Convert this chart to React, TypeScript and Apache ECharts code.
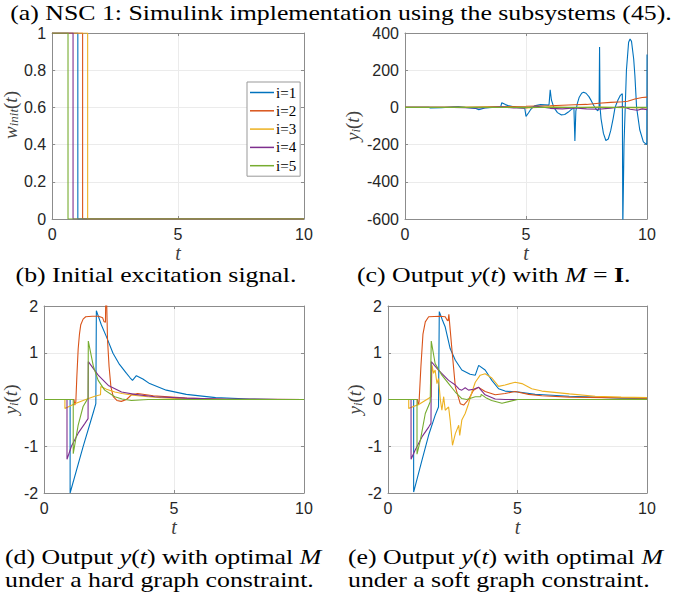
import React, { useEffect, useRef } from "react";
import * as echarts from "echarts";

const seriesNames = ["i=1", "i=2", "i=3", "i=4", "i=5"];
const colors = ["#0072BD", "#D95319", "#EDB120", "#7E2F8E", "#77AC30"];

const xTicks = { min: 0, max: 10, interval: 5 };
const yTicksB = { min: 0, max: 1, interval: 0.2 };
const yTicksC = { min: -600, max: 400, interval: 200 };
const yTicksDE = { min: -2, max: 2, interval: 1 };

// (b) initial excitation pulses
const wInit1 = [[0, 1], [1.02, 1], [1.02, 0], [10, 0]];
const wInit2 = [[0, 1], [1.21, 1], [1.21, 0], [10, 0]];
const wInit3 = [[0, 1], [1.41, 1], [1.41, 0], [10, 0]];
const wInit4 = [[0, 1], [0.83, 1], [0.83, 0], [10, 0]];
const wInit5 = [[0, 1], [0.63, 1], [0.63, 0], [10, 0]];

// (c) output with M = I
const yC1 = [[0, 0], [1, 0], [1.05, -3], [1.5, -2], [2, 3], [2.2, 5], [2.5, 0], [2.9, -5], [3.05, -12], [3.3, -3], [3.6, 0], [3.95, 2], [4.0, 25], [4.15, 15], [4.3, 8], [4.6, 0], [4.95, -5], [5.0, -48], [5.1, -30], [5.2, -10], [5.35, 8], [5.6, 15], [5.95, 12], [6.0, 95], [6.05, 40], [6.15, 0], [6.3, -28], [6.45, -40], [6.6, -38], [6.75, -25], [6.9, -8], [6.98, -3], [7.02, -180], [7.06, -20], [7.12, 20], [7.2, 55], [7.3, 76], [7.38, 82], [7.48, 76], [7.6, 58], [7.7, 35], [7.8, 10], [7.9, -10], [7.97, -18], [8.02, 0], [8.04, 325], [8.06, 0], [8.1, -60], [8.2, -140], [8.3, -178], [8.4, -170], [8.5, -125], [8.6, -60], [8.68, 0], [8.8, 40], [8.9, 65], [8.98, 74], [9.0, -650], [9.05, -200], [9.1, 0], [9.15, 200], [9.24, 350], [9.3, 368], [9.36, 355], [9.45, 260], [9.5, 170], [9.57, 0], [9.7, -120], [9.85, -185], [9.99, -200], [10, 284]];
const yC2 = [[0, 0], [2.5, 0], [3, 2], [4, 4], [5, 6], [6, 9], [7, 14], [7.5, 16], [8, 22], [8.5, 27], [9, 30], [9.2, 33], [9.5, 45], [9.8, 53], [10, 55]];
const yC3 = [[0, 0], [3, 0], [4, 2], [5, -3], [6, 3], [7, -2], [8, 2], [9, -2], [10, -3]];
const yC4 = [[0, 0], [2, 0], [3, -3], [4, 3], [4.5, -3], [5, -2], [5.5, 5], [6, -5], [6.5, -8], [7, -3], [7.5, -8], [8, -10], [8.5, -4], [9, 5], [9.3, -10], [9.6, -15], [9.8, -8], [10, -12]];
const yC5 = [[0, 0], [10, 0]];

// (d) optimal M, hard graph constraint
const yD1 = [[0, 0], [1.0, 0], [1.0, -2.0], [1.5, -1.01], [1.88, -0.3], [1.99, -0.09], [2.01, 1.9], [2.2, 1.6], [2.4, 1.34], [2.65, 0.99], [2.9, 0.75], [3.17, 0.56], [3.3, 0.47], [3.4, 0.41], [3.55, 0.51], [3.8, 0.44], [4.06, 0.34], [4.7, 0.2], [5.47, 0.11], [6.6, 0.04], [7.9, 0.01], [9, 0], [10, 0]];
const yD2 = [[0, 0], [1.15, 0], [1.18, -0.12], [1.22, -0.05], [1.26, 0.5], [1.31, 1.08], [1.36, 1.4], [1.41, 1.6], [1.5, 1.72], [1.6, 1.77], [1.85, 1.78], [2.1, 1.78], [2.25, 1.75], [2.3, 1.67], [2.36, 1.65], [2.38, 2.6], [2.41, 2.0], [2.44, 1.27], [2.5, 0.7], [2.57, 0.27], [2.66, 0.06], [2.8, -0.02], [2.97, -0.04], [3.17, 0], [3.36, 0.1], [3.6, 0.13], [4.2, 0.08], [5.5, 0.03], [7, 0.005], [10, 0]];
const yD3 = [[0, 0], [0.8, 0], [0.8, -0.19], [1.18, -0.09], [1.6, 0.0], [1.95, 0.07], [2.17, 0.1], [2.18, 0.28], [2.4, 0.22], [2.72, 0.16], [3.0, 0.13], [3.42, 0.09], [4, 0.06], [4.5, 0.04], [5.5, 0.01], [6.5, 0], [10, 0]];
const yD4 = [[0, 0], [0.88, 0], [0.88, -1.28], [1.05, -1.0], [1.31, -0.72], [1.57, -0.51], [1.69, -0.41], [1.7, 0.81], [2.08, 0.52], [2.47, 0.3], [2.98, 0.16], [3.49, 0.11], [4.26, 0.06], [5.41, 0.03], [7, 0.005], [10, 0]];
const yD5 = [[0, 0], [1.12, 0], [1.12, -1.16], [1.31, -0.55], [1.5, -0.15], [1.69, 0.03], [1.7, 1.25], [1.9, 0.7], [2.08, 0.41], [2.33, 0.2], [2.72, 0.06], [3.0, 0.01], [3.36, -0.02], [4, 0], [10, 0]];

// (e) optimal M, soft graph constraint
const yE1 = [[0, 0], [0.99, 0], [0.99, -1.98], [1.31, -1.3], [1.57, -0.76], [1.82, -0.34], [1.95, -0.16], [1.98, 1.88], [2.1, 1.7], [2.21, 1.55], [2.4, 1.09], [2.6, 0.84], [2.85, 0.63], [3.17, 0.54], [3.37, 0.52], [3.5, 0.73], [3.75, 0.63], [4.01, 0.41], [4.27, 0.23], [4.52, 0.18], [5.04, 0.16], [5.68, 0.11], [6, 0.1], [7, 0.07], [8, 0.05], [9, 0.03], [10, 0.02]];
const yE2 = [[0, 0], [1.14, 0], [1.16, -0.12], [1.2, -0.05], [1.27, 0.7], [1.35, 1.4], [1.44, 1.66], [1.57, 1.77], [2.0, 1.78], [2.21, 1.77], [2.28, 1.7], [2.32, 1.68], [2.35, 1.82], [2.4, 1.5], [2.47, 1.06], [2.6, 0.27], [2.79, -0.09], [2.92, -0.12], [3.11, 0], [3.3, 0.2], [3.5, 0.26], [3.75, 0.17], [4.14, 0.1], [4.52, 0.13], [4.91, 0.17], [5.43, 0.11], [5.94, 0.08], [7, 0.05], [8.5, 0.04], [10, 0.03]];
const yE3 = [[0, 0], [0.8, 0], [0.8, -0.19], [1.2, -0.1], [1.67, 0.06], [1.7, 0.73], [1.76, 0.56], [1.82, 0.63], [1.89, 0.34], [1.95, 0.45], [2.02, 0.0], [2.08, -0.23], [2.15, 0.06], [2.21, -0.23], [2.34, -0.16], [2.4, -0.44], [2.49, -0.98], [2.6, -0.73], [2.73, -0.55], [2.77, -0.77], [2.85, -0.44], [2.98, -0.3], [3.11, -0.09], [3.24, 0.16], [3.37, 0.37], [3.56, 0.52], [3.75, 0.55], [4.01, 0.46], [4.27, 0.28], [4.52, 0.31], [4.91, 0.37], [5.17, 0.34], [5.55, 0.23], [5.94, 0.18], [7, 0.12], [8, 0.07], [9, 0.05], [10, 0.04]];
const yE4 = [[0, 0], [0.89, 0], [0.89, -1.28], [1.05, -1.08], [1.31, -0.8], [1.57, -0.59], [1.66, -0.51], [1.67, 0.81], [1.95, 0.63], [2.34, 0.41], [2.6, 0.31], [2.75, 0.22], [2.85, 0.2], [2.98, 0.25], [3.11, 0.2], [3.3, 0.22], [3.5, 0.26], [3.75, 0.1], [4.14, 0.01], [4.52, 0], [10, 0]];
const yE5 = [[0, 0], [1.12, 0], [1.12, -1.17], [1.25, -0.87], [1.44, -0.3], [1.63, -0.05], [1.67, 1.25], [1.82, 0.77], [2.08, 0.52], [2.34, 0.34], [2.6, 0.16], [2.85, 0.02], [3.04, 0], [3.37, 0.06], [3.58, 0.06], [3.6, 0.11], [3.8, 0.03], [4.0, -0.02], [4.4, -0.08], [4.7, -0.04], [5.0, 0], [10, 0]];

const panelData = [
  [wInit1, wInit2, wInit3, wInit4, wInit5],
  [yC1, yC2, yC3, yC4, yC5],
  [yD1, yD2, yD3, yD4, yD5],
  [yE1, yE2, yE3, yE4, yE5],
];

const SERIF = "'Liberation Serif', 'Times New Roman', serif";
const SANS = "'Liberation Sans', Arial, sans-serif";
const AXIS_COLOR = "#8c8c8c";
const LABEL_COLOR = "#262626";
const NAME_COLOR = "#404040";

const mathRich = {
  i: { fontFamily: SERIF, fontStyle: "italic", fontSize: 19, color: NAME_COLOR },
  s: { fontFamily: SERIF, fontStyle: "italic", fontSize: 13, color: NAME_COLOR, verticalAlign: "bottom" },
  n: { fontFamily: SERIF, fontSize: 19, color: NAME_COLOR },
};

function buildOption() {
  const grids = [
    { left: 52, top: 33, width: 252, height: 186 },
    { left: 405, top: 33, width: 242, height: 186 },
    { left: 44, top: 306, width: 260, height: 187 },
    { left: 388, top: 306, width: 259, height: 187 },
  ];
  const yRanges = [yTicksB, yTicksC, yTicksDE, yTicksDE];
  const yNames = [
    "{i|w}{s|init}{n|(}{i|t}{n|)}",
    "{i|y}{s|i}{n|(}{i|t}{n|)}",
    "{i|y}{s|i}{n|(}{i|t}{n|)}",
    "{i|y}{s|i}{n|(}{i|t}{n|)}",
  ];
  const yGaps = [21, 43, 22, 24];
  const yPads = [[0, 0, 0, 22], [0, 0, 0, 0], [0, 0, 0, 0], [0, 0, 0, 0]];

  const xAxis: any[] = [];
  const yAxis: any[] = [];
  const lineStyle = { color: AXIS_COLOR, width: 1 };
  grids.forEach((g, gi) => {
    xAxis.push({
      type: "value", gridIndex: gi, position: "bottom", ...xTicks,
      name: "t", nameLocation: "middle", nameGap: 22,
      nameTextStyle: { fontFamily: SERIF, fontStyle: "italic", fontSize: 20, color: NAME_COLOR },
      axisLine: { show: true, onZero: false, lineStyle },
      axisTick: { show: true, inside: true, length: 3, lineStyle },
      axisLabel: { fontFamily: SANS, fontSize: 16, color: LABEL_COLOR, margin: 7 },
      splitLine: { show: true, lineStyle: { color: "#ebebeb", width: 1 } },
    });
    xAxis.push({
      type: "value", gridIndex: gi, position: "top", ...xTicks,
      axisLine: { show: true, onZero: false, lineStyle },
      axisTick: { show: true, inside: true, length: 3, lineStyle },
      axisLabel: { show: false },
      splitLine: { show: false },
    });
    const yr = yRanges[gi];
    yAxis.push({
      type: "value", gridIndex: gi, position: "left", ...yr,
      name: yNames[gi], nameLocation: "middle", nameGap: yGaps[gi],
      nameTextStyle: { fontSize: 19, fontFamily: SERIF, color: NAME_COLOR, rich: mathRich, padding: yPads[gi] },
      axisLine: { show: true, onZero: false, lineStyle },
      axisTick: { show: true, inside: true, length: 3, lineStyle },
      axisLabel: { fontFamily: SANS, fontSize: 16, color: LABEL_COLOR, margin: 6 },
      splitLine: { show: true, lineStyle: { color: "#ebebeb", width: 1 } },
    });
    yAxis.push({
      type: "value", gridIndex: gi, position: "right", ...yr,
      axisLine: { show: true, onZero: false, lineStyle },
      axisTick: { show: true, inside: true, length: 3, lineStyle },
      axisLabel: { show: false },
      splitLine: { show: false },
    });
  });

  const series: any[] = [];
  panelData.forEach((set, gi) => {
    set.forEach((data, k) => {
      series.push({
        type: "line", name: seriesNames[k], data,
        xAxisIndex: gi * 2, yAxisIndex: gi * 2,
        symbol: "none", showSymbol: false, clip: true,
        lineStyle: { color: colors[k], width: 1.1 },
        itemStyle: { color: colors[k] },
        emphasis: { disabled: true },
      });
    });
  });

  const caption = (text: string, x: number, y: number, align = "left") => ({
    type: "text", x, y, scaleX: 1.23, scaleY: 1,
    style: {
      text, fontFamily: SERIF, fontSize: 21, fill: "#000",
      textAlign: align, textVerticalAlign: "middle",
      rich: {
        i: { fontFamily: SERIF, fontStyle: "italic", fontSize: 21, fill: "#000", color: "#000" },
        b: { fontFamily: SERIF, fontWeight: "bold", fontSize: 21, fill: "#000", color: "#000" },
      },
    },
  });

  return {
    animation: false,
    backgroundColor: "#fff",
    grid: grids,
    xAxis, yAxis, series,
    legend: {
      show: true, left: 247, top: 82, orient: "vertical",
      data: seriesNames,
      icon: "rect",
      itemWidth: 24, itemHeight: 1.5, itemGap: 3.3,
      padding: [3, 4, 3, 3],
      backgroundColor: "#fff", borderColor: "#999", borderWidth: 1, borderRadius: 0,
      textStyle: { fontFamily: SERIF, fontSize: 15, color: "#000", lineHeight: 14, padding: [0, 0, 0, -3] },
      selectedMode: false,
    },
    graphic: [
      caption("(a) NSC 1: Simulink implementation using the subsystems (45).", 341, 13, "center"),
      caption("(b) Initial excitation signal.", 156, 275, "center"),
      caption("(c) Output {i|y}({i|t}) with {i|M} = {b|I}.", 357, 275),
      caption("(d) Output {i|y}({i|t}) with optimal {i|M}", 5, 557),
      caption("under a hard graph constraint.", 5, 580),
      caption("(e) Output {i|y}({i|t}) with optimal {i|M}", 348, 557),
      caption("under a soft graph constraint.", 348, 580),
    ],
  };
}

export default function App() {
  const ref = useRef<HTMLDivElement>(null);
  useEffect(() => {
    if (!ref.current) return;
    const chart = echarts.init(ref.current, undefined, { renderer: "svg" });
    chart.setOption(buildOption() as any);
    return () => chart.dispose();
  }, []);
  return (
    <div
      ref={ref}
      style={{ position: "fixed", left: 0, top: 0, width: 684, height: 600, background: "#fff" }}
    />
  );
}
